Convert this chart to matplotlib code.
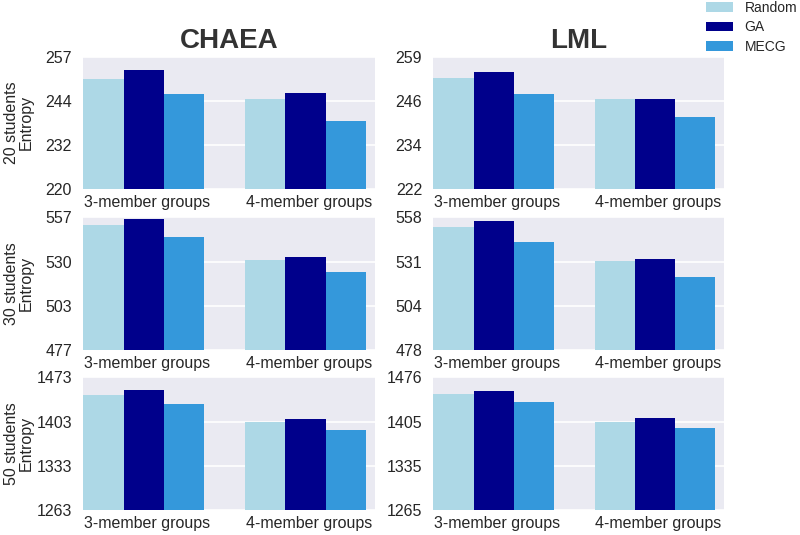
import numpy as np
import matplotlib
matplotlib.use("Agg")
import matplotlib.pyplot as plt
import seaborn as sns
from matplotlib.patches import Patch

sns.set_style("darkgrid")
plt.rcParams['font.family'] = ['Liberation Sans', 'DejaVu Sans']

categories = ["3-member groups", "4-member groups"]
methods = ["Random", "GA", "MECG"]
colors = ["#ADD8E6", "#00008B", "#3498DB"]
columns = ["CHAEA", "LML"]
row_labels = ["20 students\nEntropy", "30 students\nEntropy", "50 students\nEntropy"]

# values[row][col][method] -> [3-member, 4-member]
chaea_20 = {"Random": [250.8, 245.2], "GA": [253.3, 246.8], "MECG": [246.7, 239.0]}
lml_20 = {"Random": [253.0, 247.1], "GA": [254.8, 247.1], "MECG": [248.6, 242.2]}
chaea_30 = {"Random": [552.4, 531.1], "GA": [556.0, 533.3], "MECG": [545.1, 524.2]}
lml_30 = {"Random": [552.2, 531.7], "GA": [555.8, 532.7], "MECG": [543.1, 522.0]}
chaea_50 = {"Random": [1445.0, 1402.8], "GA": [1452.4, 1406.5], "MECG": [1430.8, 1389.6]}
lml_50 = {"Random": [1450.0, 1405.5], "GA": [1454.3, 1411.3], "MECG": [1436.2, 1396.0]}

# y-axis limits per panel
ylims = [[(220, 257), (222, 259)],
         [(477, 557), (478, 558)],
         [(1263, 1473), (1265, 1476)]]

data = [[chaea_20, lml_20], [chaea_30, lml_30], [chaea_50, lml_50]]

fig = plt.figure(figsize=(8, 5.35), dpi=100)
lefts = [0.104, 0.5417]
widths = [0.3646, 0.3634]
bottoms = [0.6467, 0.3458, 0.0467]
heights = [0.2473, 0.248, 0.248]

text_color = "#262626"
bw = 0.25
x = np.arange(len(categories))
for r in range(3):
    for c in range(2):
        ax = fig.add_axes([lefts[c], bottoms[r], widths[c], heights[r]])
        vals = data[r][c]
        for k, m in enumerate(methods):
            ax.bar(x + (k - 1) * bw, vals[m], width=bw, color=colors[k],
                   edgecolor="none", zorder=2)
        lo, hi = ylims[r][c]
        ax.set_ylim(lo, hi)
        ticks = np.linspace(lo, hi, 4)
        ax.set_yticks(ticks)
        ax.set_yticklabels([str(int(t)) for t in ticks])
        ax.set_xlim(-0.375, 1.429)
        ax.set_xticks(x + 0.02)
        ax.set_xticklabels(categories)
        ax.grid(axis="x", visible=False)
        ax.grid(axis="y", color="white", linewidth=1.2)
        ax.tick_params(axis="x", labelsize=11.5, pad=4, colors=text_color, length=0)
        ax.tick_params(axis="y", labelsize=11.5, pad=8, colors=text_color, length=0)
        for s in ax.spines.values():
            s.set_visible(False)
        if r == 0:
            ax.set_title(columns[c], fontsize=20, fontweight="bold", color="#333333", pad=6)
        if c == 0:
            ax.set_ylabel(row_labels[r], fontsize=11.5, color=text_color, linespacing=0.95)
            ax.yaxis.set_label_coords(-0.17, 0.5)

handles = [Patch(facecolor=col, edgecolor="none") for col in colors]
fig.legend(handles, methods, loc="upper right", bbox_to_anchor=(1.012, 1.022),
           frameon=False, fontsize=10, labelspacing=0.4, handlelength=2.0)

fig.savefig("out.png", dpi=100)
